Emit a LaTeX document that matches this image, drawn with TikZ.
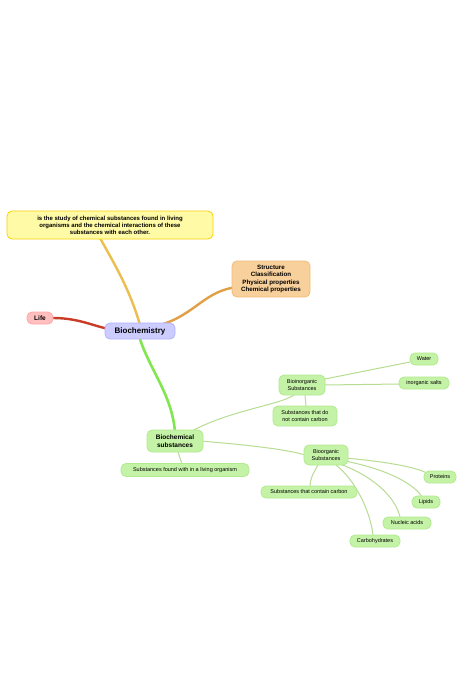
\documentclass[tikz,border=0pt]{standalone}
\usepackage{fontspec}
\setmainfont{Liberation Sans}
\definecolor{gfill}{HTML}{C4F2A6}
\definecolor{gdraw}{HTML}{B2EA8E}
\definecolor{gedge}{HTML}{B8DC92}
\begin{document}
\begin{tikzpicture}[x=1pt,y=-1pt,
 box/.style={rounded corners=5pt,align=center,inner sep=0pt,font=\fontsize{5.5}{6.2}\selectfont},
 gn/.style={box,fill=gfill,draw=gdraw,line width=0.8pt},
 ge/.style={draw=gedge,line width=1pt},
 ]
\useasboundingbox (0,0) rectangle (474,694);
\fill[white] (0,0) rectangle (474,694);
% main edges
\draw[line width=2.4pt,draw={rgb,255:red,235;green,190;blue,80}] (140,325) .. controls (130,290) and (115,265) .. (100,238);
\draw[line width=2.4pt,draw={rgb,255:red,225;green,160;blue,70}] (160,325) .. controls (195,315) and (205,290) .. (238,287);
\draw[line width=2.4pt,draw={rgb,255:red,200;green,60;blue,40}] (53,318) .. controls (80,318) and (95,327) .. (110,329);
\draw[line width=2.6pt,draw={rgb,255:red,130;green,230;blue,80}] (140,339) .. controls (150,370) and (172,395) .. (175,432);
\node[box,fill=yellow!35,draw=yellow!70!orange,line width=0.8pt,minimum width=206pt,minimum height=28pt,font=\bfseries\fontsize{6}{7}\selectfont] (def) at (110,225) {is the study of chemical substances found in living\\organisms and the chemical interactions of these\\substances with each other.};
\node[box,fill={rgb,255:red,248;green,208;blue,155},draw={rgb,255:red,240;green,190;blue,120},line width=0.8pt,minimum width=78pt,minimum height=36pt,font=\bfseries\fontsize{6.2}{7.2}\selectfont] (str) at (271,279) {Structure\\Classification\\Physical properties\\Chemical properties};
\node[box,fill=red!25,draw=red!35,line width=0.8pt,minimum width=26pt,minimum height=12pt,font=\bfseries\fontsize{6.5}{7}\selectfont] (life) at (40,318) {Life};
\node[box,fill=blue!20,draw=blue!30,line width=0.8pt,minimum width=70pt,minimum height=16pt,font=\bfseries\fontsize{8}{9}\selectfont] (bio) at (140,331) {Biochemistry};
% sub edges
\draw[ge] (190,432) .. controls (230,410) and (280,405) .. (294,395);
\draw[ge] (200,441) .. controls (250,445) and (290,450) .. (305,455);
\draw[ge] (178,452) -- (182,464);
\draw[ge] (320,380) -- (410,362);
\draw[ge] (324,385) -- (400,384);
\draw[ge] (305,395) -- (306,406);
\draw[ge] (345,458) .. controls (390,462) and (420,468) .. (428,474);
\draw[ge] (345,461) .. controls (390,470) and (415,485) .. (422,497);
\draw[ge] (340,464) .. controls (370,475) and (395,495) .. (400,517);
\draw[ge] (336,465) .. controls (355,480) and (370,510) .. (373,535);
\draw[ge] (318,465) .. controls (312,475) and (310,480) .. (310,487);
% green nodes
\node[gn,minimum width=56pt,minimum height=22pt,font=\bfseries\fontsize{6.5}{7.5}\selectfont] (bs) at (175,441) {Biochemical\\substances};
\node[gn,minimum width=128pt,minimum height=13pt] (sf) at (185,470) {Substances found with in a living organism};
\node[gn,minimum width=46pt,minimum height=20pt] (bi) at (302,385) {Bioinorganic\\Substances};
\node[gn,minimum width=28pt,minimum height=12pt] (w) at (424,359) {Water};
\node[gn,minimum width=50pt,minimum height=12pt] (is) at (424,383) {inorganic salts};
\node[gn,minimum width=64pt,minimum height=20pt] (nc) at (305,416) {Substances that do\\not contain carbon};
\node[gn,minimum width=44pt,minimum height=20pt] (bo) at (326,455) {Bioorganic\\Substances};
\node[gn,minimum width=32pt,minimum height=12pt] (p) at (440,477) {Proteins};
\node[gn,minimum width=96pt,minimum height=12pt] (cc) at (309,492) {Substances that contain carbon};
\node[gn,minimum width=28pt,minimum height=12pt] (l) at (426,502) {Lipids};
\node[gn,minimum width=48pt,minimum height=12pt] (na) at (407,523) {Nucleic acids};
\node[gn,minimum width=50pt,minimum height=12pt] (ch) at (375,541) {Carbohydrates};
\end{tikzpicture}
\end{document}
